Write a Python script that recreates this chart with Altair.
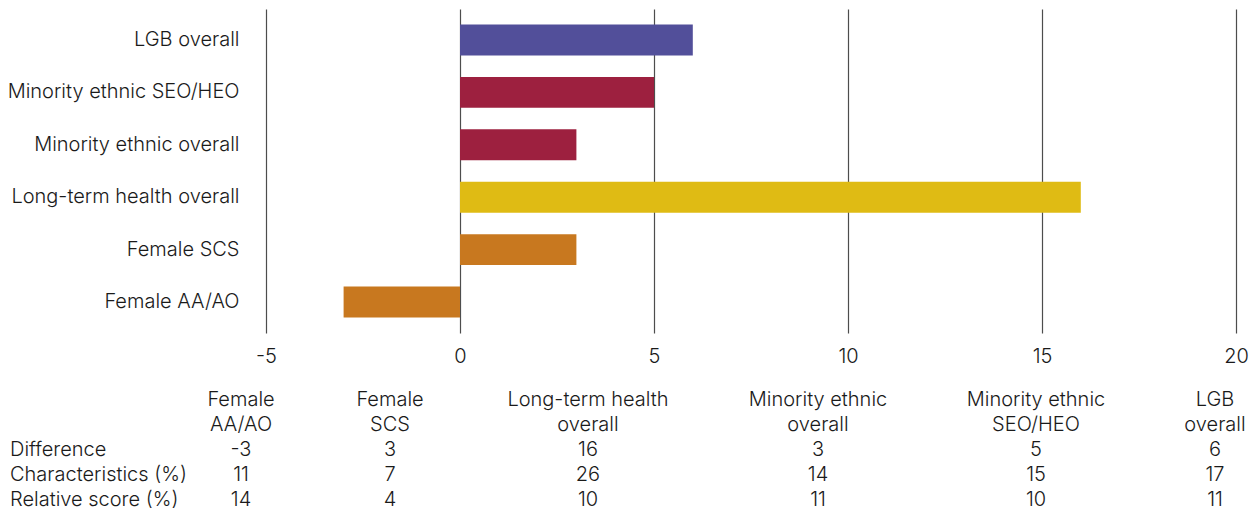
import altair as alt
import pandas as pd

# ---- data -----------------------------------------------------------------
groups = ["Female AA/AO", "Female SCS", "Long-term health overall",
          "Minority ethnic overall", "Minority ethnic SEO/HEO", "LGB overall"]
header_lines = ["Female\nAA/AO", "Female\nSCS", "Long-term health\noverall",
                "Minority ethnic\noverall", "Minority ethnic\nSEO/HEO", "LGB\noverall"]
colour_group = ["Female", "Female", "Health", "Ethnic", "Ethnic", "LGB"]
difference = [-3, 3, 16, 3, 5, 6]
characteristics = [11, 7, 26, 14, 15, 17]
relative = [14, 4, 10, 11, 10, 11]
row_labels = ["Difference", "Characteristics (%)", "Relative score (%)"]
x_ticks = [-5, 0, 5, 10, 15, 20]

# ---- styling --------------------------------------------------------------
FONT = "Inter"
WEIGHT = 300
TXT = "#1a1a1a"
FS = 20
colour_domain = ["LGB", "Ethnic", "Health", "Female"]
colour_range = ["#524f9a", "#9d203f", "#dfbb14", "#c8781f"]

bars_df = pd.DataFrame({"group": groups, "difference": difference,
                        "colour": colour_group})

cells = []
for i, (h, d, c, r) in enumerate(zip(header_lines, difference, characteristics, relative)):
    l1, l2 = h.split("\n")
    cells.append({"col": i, "row": "h1", "text": l1})
    cells.append({"col": i, "row": "h2", "text": l2})
    cells.append({"col": i, "row": row_labels[0], "text": str(d)})
    cells.append({"col": i, "row": row_labels[1], "text": str(c)})
    cells.append({"col": i, "row": row_labels[2], "text": str(r)})
for lab in row_labels:
    cells.append({"col": -1, "row": lab, "text": lab})
cells_df = pd.DataFrame(cells)

bars = alt.Chart(bars_df).mark_bar().encode(
    y=alt.Y("group:N", sort=groups[::-1],
            scale=alt.Scale(paddingInner=0.41, paddingOuter=0.295),
            axis=alt.Axis(title=None, domain=False, ticks=False, labelPadding=27,
                          labelFontSize=FS, labelFont=FONT, labelFontWeight=WEIGHT,
                          labelColor=TXT, labelLimit=400)),
    x=alt.X("difference:Q", scale=alt.Scale(domain=[-5, 20], nice=False),
            axis=alt.Axis(title=None, values=x_ticks, domain=False, ticks=False,
                          grid=True, gridColor="#4d4d4d", gridWidth=1.2,
                          labelExpr="'' + datum.value", labelFlush=False,
                          labelPadding=13, labelFontSize=FS, labelFont=FONT,
                          labelFontWeight=WEIGHT, labelColor=TXT)),
    color=alt.Color("colour:N", scale=alt.Scale(domain=colour_domain, range=colour_range),
                    legend=None),
)

col_scale = alt.Scale(domain=[-1, 0, 1, 2, 3, 4, 5],
                      range=[-256, -25, 124, 322, 552, 770, 949],
                      zero=False, nice=False)
row_scale = alt.Scale(type="point", domain=["h1", "h2"] + row_labels,
                      range=[391, 491], padding=0)

table_vals = alt.Chart(cells_df).transform_filter("datum.col >= 0").mark_text(
    align="center", baseline="middle", fontSize=FS, font=FONT,
    fontWeight=WEIGHT, color=TXT
).encode(
    x=alt.X("col:Q", scale=col_scale, axis=None),
    y=alt.Y("row:N", scale=row_scale, axis=None),
    text="text:N",
)

table_labels = alt.Chart(cells_df).transform_filter("datum.col < 0").mark_text(
    align="left", baseline="middle", fontSize=FS, font=FONT,
    fontWeight=WEIGHT, color=TXT
).encode(
    x=alt.X("col:Q", scale=col_scale, axis=None),
    y=alt.Y("row:N", scale=row_scale, axis=None),
    text="text:N",
)

chart = alt.layer(bars, table_vals, table_labels).resolve_scale(
    x="independent", y="independent"
).properties(
    width=970, height=324,
    autosize=alt.AutoSizeParams(type="none"),
    padding={"left": 258, "top": 1, "right": 13, "bottom": 181},
).configure_view(stroke=None)

chart.save("out.html", embed_options={"renderer": "svg", "actions": False})
